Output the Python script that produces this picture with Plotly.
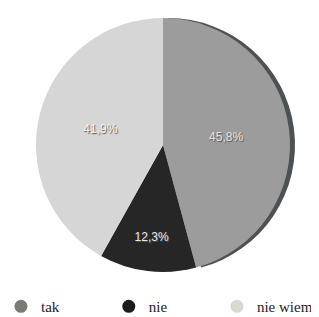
import plotly.graph_objects as go

categories = ["tak", "nie", "nie wiem"]
values = [45.8, 12.3, 41.9]
value_labels = ["45,8%", "12,3%", "41,9%"]
slice_colors = ["#9c9c9c", "#262626", "#d6d6d6"]
legend_colors = ["#7b7a77", "#1c1c1c", "#d9d7cf"]
text_colors = ["#e4e4e4", "#e8e8e8", "#f4f4f4"]

W, H = 319, 317
cx, cy, r = 155, 137, 127

def dom(cx, cy, r):
    return dict(x=[(cx - r) / W, (cx + r) / W], y=[(H - cy - r) / H, (H - cy + r) / H])

fig = go.Figure()

# dark edge (3D rim) behind the main pie
fig.add_trace(go.Pie(
    labels=categories, values=values, sort=False, direction="clockwise",
    marker=dict(colors=["#4e5153", "rgba(0,0,0,0)", "rgba(0,0,0,0)"], line=dict(width=0)),
    textinfo="none", hoverinfo="skip", showlegend=False,
    domain=dom(cx + 5, cy, r),
))

fig.add_trace(go.Pie(
    labels=categories, values=values, sort=False, direction="clockwise",
    marker=dict(colors=slice_colors, line=dict(width=0)),
    text=value_labels, textinfo="text", textposition="inside",
    insidetextorientation="horizontal",
    textfont=dict(family="Liberation Sans, Arial, sans-serif", size=12, color=text_colors,
                  shadow="1px 1px 1px #555"),
    showlegend=False,
    domain=dom(cx, cy, r),
))

legend_ids = ["legend", "legend2", "legend3"]
legend_x = [-0.022, 0.316, 0.655]
for name, col, lid in zip(categories, legend_colors, legend_ids):
    fig.add_trace(go.Scatter(
        x=[None], y=[None], mode="markers", name=name, legend=lid,
        marker=dict(symbol="circle", size=13, color=col),
    ))

leg_common = dict(orientation="h", y=0.058, xanchor="left", yanchor="middle",
                  itemwidth=30, bgcolor="rgba(0,0,0,0)",
                  font=dict(family="Liberation Serif, Times New Roman, serif", size=15, color="#222"))

fig.update_layout(
    width=W, height=H,
    margin=dict(l=0, r=0, t=0, b=0, autoexpand=False),
    paper_bgcolor="white", plot_bgcolor="white",
    xaxis=dict(visible=False), yaxis=dict(visible=False),
    legend=dict(x=legend_x[0], **leg_common),
    legend2=dict(x=legend_x[1], **leg_common),
    legend3=dict(x=legend_x[2], **leg_common),
)

fig.write_html("out.html")
